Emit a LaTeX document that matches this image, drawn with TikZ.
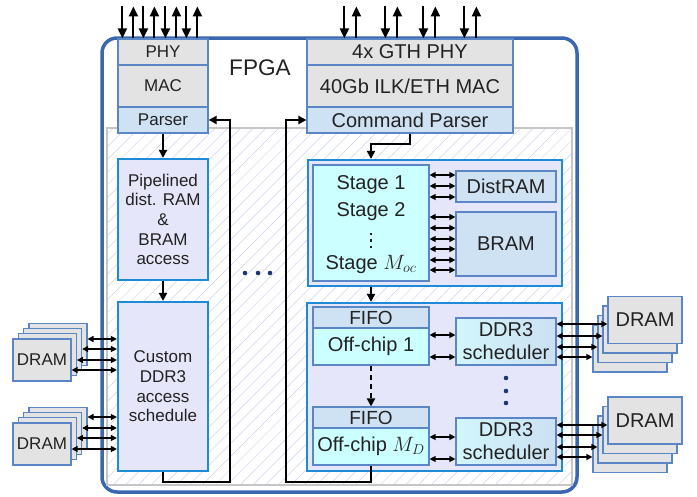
\documentclass[tikz,border=0pt]{standalone}
\usepackage{fontspec}
\setmainfont{Liberation Sans}
\usetikzlibrary{arrows.meta,patterns.meta}

\definecolor{fpgablue}{HTML}{3A67B0}
\definecolor{modblue}{HTML}{1E8BD6}
\definecolor{edgeblue}{HTML}{5A86C5}
\definecolor{lav}{HTML}{E6E6FA}
\definecolor{cyanbox}{HTML}{CCFFFF}
\definecolor{pale}{HTML}{CFE2F3}
\definecolor{grayfill}{HTML}{E3E3E3}
\definecolor{txt}{HTML}{222222}
\definecolor{hatch}{HTML}{CDD4EA}
\definecolor{hatchedge}{HTML}{C6C6C6}
\definecolor{dotblue}{HTML}{1C3770}
\definecolor{ddrl}{HTML}{D2F6FC}
\definecolor{ddrr}{HTML}{CBE0F2}

\begin{document}
\begin{tikzpicture}[x=1pt,y=-1pt,
    every node/.style={inner sep=0pt, text=txt},
    blk/.style={draw=edgeblue, line width=1.2pt},
    gry/.style={blk, fill=grayfill},
    pal/.style={blk, fill=pale},
    cyn/.style={blk, fill=cyanbox},
    ddr/.style={blk, left color=ddrl, right color=ddrr, align=center},
    module/.style={draw=modblue, line width=2.2pt, fill=lav},
    lft/.style={font=\fontsize{17}{19.7}\selectfont},
    rgt/.style={font=\fontsize{20}{23}\selectfont},
    conn/.style={line width=2pt, -{Triangle[length=8pt,width=8pt]}},
    bigdown/.style={line width=2pt, {Triangle[length=10pt,width=9pt]}-},
    bigup/.style={line width=2pt, -{Triangle[length=10pt,width=9pt]}},
    dbl/.style={line width=1.3pt, {Triangle[length=6pt,width=6pt]}-{Triangle[length=6pt,width=6pt]}}]
  \useasboundingbox (0,0) rectangle (697,496);

  % FPGA outline and hatched fabric
  \draw[fpgablue, line width=3.5pt, rounded corners=15pt] (102,38) rectangle (577,492);
  \draw[hatchedge, line width=2pt, pattern={Lines[angle=45,distance=9pt,line width=0.5pt]},
    pattern color=hatch] (107,128) rectangle (572,485);
  \node[font=\fontsize{22.6}{26}\selectfont] (fpga) at (260,68) {FPGA};

  % Left network stack
  \node[gry, lft, minimum width=90, minimum height=26] (phy) at (163,52) {PHY};
  \node[gry, lft, minimum width=90, minimum height=42] (mac) at (163,86) {MAC};
  \node[pal, lft, minimum width=90, minimum height=26] (parser) at (163,120) {Parser};

  % Right network stack
  \node[gry, rgt, minimum width=206, minimum height=26] (gth) at (410,52) {4x GTH PHY};
  \node[gry, rgt, minimum width=206, minimum height=42] (ilk) at (410,86) {40Gb ILK/ETH MAC};
  \node[pal, rgt, minimum width=206, minimum height=26] (cmd) at (410,120) {Command Parser};

  % Left pipeline
  \node[module, lft, align=center, minimum width=90, minimum height=121] (pipe) at (163,219.5)
    {Pipelined\\dist. RAM\\\&\\BRAM\\access};
  \node[module, lft, align=center, minimum width=90, minimum height=169] (custom) at (163,386.5)
    {Custom\\DDR3\\access\\schedule};

  % On-chip stages
  \node[module, minimum width=254, minimum height=126] (stgmod) at (435,223) {};
  \node[cyn, minimum width=116, minimum height=116] (stg) at (371,223) {};
  \node[rgt] (stga) at (371,185) {Stage 1};
  \node[rgt] (stgb) at (371,212) {Stage 2};
  \node[rgt] (stgm) at (371,264) {Stage $M_{oc}$};
  \foreach \y in {234,240.5,247}
    \fill[txt] (369.6,\y-1.4) rectangle (372.4,\y+1.4);
  \node[pal, rgt, minimum width=100, minimum height=31] (dist) at (506,186.5) {DistRAM};
  \node[pal, rgt, minimum width=100, minimum height=64] (bram) at (506,244) {BRAM};

  % Off-chip stages
  \node[module, minimum width=255, minimum height=168] (ocmod) at (434.5,387) {};
  \node[pal, font=\fontsize{19}{22}\selectfont, minimum width=116, minimum height=21] (fifoa) at (371,317.5) {FIFO};
  \node[cyn, rgt, minimum width=116, minimum height=37] (oca) at (371,346.5) {Off-chip 1};
  \node[pal, font=\fontsize{19}{22}\selectfont, minimum width=116, minimum height=21] (fifob) at (371,417.5) {FIFO};
  \node[cyn, rgt, minimum width=116, minimum height=37] (ocb) at (371,446.5) {Off-chip $M_D$};
  \node[ddr, rgt, minimum width=100, minimum height=47] (ddra) at (506,341.5) {DDR3\\scheduler};
  \node[ddr, rgt, minimum width=100, minimum height=47] (ddrb) at (506,441.5) {DDR3\\scheduler};

  % DRAM stacks
  \foreach \k in {3,2,1} {
    \node[gry, minimum width=58, minimum height=42] (dLa\k) at ({42+5.3*\k},{360-5.2*\k}) {};
    \node[gry, minimum width=58, minimum height=42] (dLb\k) at ({42+5.3*\k},{444-5.2*\k}) {};
    \node[gry, minimum width=74, minimum height=47] (dRa\k) at ({645-5*\k},{320+9.5*\k}) {};
    \node[gry, minimum width=74, minimum height=47] (dRb\k) at ({645-5*\k},{420.5+9.5*\k}) {};
  }
  \node[gry, lft, minimum width=58, minimum height=42] (dLa0) at (42,360) {DRAM};
  \node[gry, lft, minimum width=58, minimum height=42] (dLb0) at (42,444) {DRAM};
  \node[gry, rgt, minimum width=74, minimum height=47] (dRa0) at (645,320) {DRAM};
  \node[gry, rgt, minimum width=74, minimum height=47] (dRb0) at (645,420.5) {DRAM};

  % Ellipses
  \foreach \x in {245,258,270}
    \fill[dotblue] (\x,273) circle (2.3);
  \foreach \y in {378,391,403}
    \fill[dotblue] (506,\y) circle (2.3);

  % External links
  \foreach \o in {5,26,48,69}
    \draw[bigdown] ([xshift=\o]phy.north west) -- ++(0,-32);
  \foreach \o in {16,37,59,80}
    \draw[bigup] ([xshift=\o]phy.north west) -- ++(0,-32);
  \foreach \o in {38,79,117,158}
    \draw[bigdown] ([xshift=\o]gth.north west) -- ++(0,-32);
  \foreach \o in {50,91,129,170}
    \draw[bigup] ([xshift=\o]gth.north west) -- ++(0,-32);

  % Data path
  \draw[conn] (parser) -- (pipe);
  \draw[conn] (pipe) -- (custom);
  \draw[conn] (custom.south) -- ++(0,10) -| ([xshift=21]parser.east) -- (parser.east);
  \draw[conn] (cmd.south) -- ++(0,10) -| (stg |- stgmod.north);
  \draw[conn] (stg |- stgmod.south) -- (stg |- ocmod.north);
  \draw[conn, dash pattern=on 5pt off 4pt] (oca) -- (fifob);
  \draw[conn] (ocb.south) -- ++(0,16) -| ([xshift=-20]cmd.west) -- (cmd.west);

  % Memory ports
  \foreach \y in {175,186,197}
    \draw[dbl] (stg.east |- 0,\y) -- (dist.west |- 0,\y);
  \foreach \y in {217,228,239,249,260,270}
    \draw[dbl] (stg.east |- 0,\y) -- (bram.west |- 0,\y);
  \foreach \y in {335,357}
    \draw[dbl] (oca.east |- 0,\y) -- (ddra.west |- 0,\y);
  \foreach \y in {437,459}
    \draw[dbl] (ocb.east |- 0,\y) -- (ddrb.west |- 0,\y);
  \foreach \k/\y in {3/339,2/349,1/360,0/370}
    \draw[dbl] (dLa\k.east |- 0,\y) -- (custom.west |- 0,\y);
  \foreach \k/\y in {3/417,2/428,1/438,0/449}
    \draw[dbl] (dLb\k.east |- 0,\y) -- (custom.west |- 0,\y);
  \foreach \k/\y in {0/324,1/336,2/347,3/357}
    \draw[dbl] (ddra.east |- 0,\y) -- (dRa\k.west |- 0,\y);
  \foreach \k/\y in {0/425,1/435,2/447,3/457}
    \draw[dbl] (ddrb.east |- 0,\y) -- (dRb\k.west |- 0,\y);
\end{tikzpicture}
\end{document}
